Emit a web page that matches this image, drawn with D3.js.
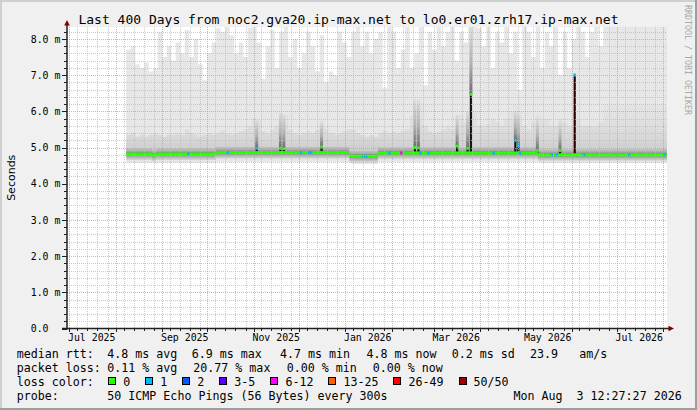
<!DOCTYPE html>
<html><head><meta charset="utf-8">
<script src="https://cdnjs.cloudflare.com/ajax/libs/d3/7.8.5/d3.min.js"></script>
<style>
html,body{margin:0;padding:0;background:#f0f0f0;overflow:hidden}
svg{display:block}
text{font-family:"DejaVu Sans Mono",monospace;white-space:pre;fill:#000}
</style></head><body>
<svg id="chart" width="697" height="410"></svg>
<script>
// ---------------- DATA ----------------
const title = "Last 400 Days from noc2.gva20.ip-max.net to lo0.er01.zrh17.ip-max.net";
const yAxisTitle = "Seconds";
const watermark = "RRDTOOL / TOBI OETIKER";
const rangeStart = "2025-06-29 12:27";
const rangeEnd = "2026-08-03 12:27";
const yMaxValue = 8.33;
const yTickValues = [0, 1, 2, 3, 4, 5, 6, 7, 8];
const yTickLabels = ["0.0", "1.0 m", "2.0 m", "3.0 m", "4.0 m", "5.0 m", "6.0 m", "7.0 m", "8.0 m"];
const xLabelMonths = ["2025-07", "2025-09", "2025-11", "2026-01", "2026-03", "2026-05", "2026-07"];
const xLabelTexts = ["Jul 2025", "Sep 2025", "Nov 2025", "Jan 2026", "Mar 2026", "May 2026", "Jul 2026"];

// smoke samples every 3 days from smokeStart (ms)
const smokeStart = "2025-08-08 00:00";
const smokeStepDays = 3;
const smokeMax = [
  7.7, 7.8, 7.3, 7.2, 7.35, 7.1, 7.2, 8.2, 7.5, 7.8,
  7.4, 7.9, 7.6, 8.25, 7.5, 8.0, 7.3, 6.86, 7.6, 7.9,
  8.3, 8.2, 9, 8.1, 7.6, 7.9, 7.5, 8.3, 9, 7.9,
  6.9, 7.8, 8.25, 7.2, 8.2, 9, 7.5, 8.0, 7.2, 7.6,
  8.2, 7.8, 7.1, 8.1, 6.8, 7.1, 7.0, 8.2, 7.9, 7.5,
  8.2, 9, 7.8, 8.2, 7.6, 8.0, 8.2, 6.64, 9, 8.2,
  7.2, 7.7, 9, 7.2, 7.6, 9, 6.72, 8.2, 7.7, 9,
  7.8, 8.2, 9, 7.4, 8.2, 7.9, 9, 9, 8.3, 7.8,
  9, 7.2, 8.2, 7.9, 9, 7.6, 8.2, 6.59, 9, 8.2,
  7.5, 9, 7.2, 8.2, 7.8, 9, 7.0, 8.2, 7.2, 8.0,
  9, 8.2, 7.5, 8.2, 9, 7.8, 9, 9, 9, 9,
  9, 9, 9, 9, 9, 9, 9, 9, 9, 9, 9
];
const smokeHaze = [
  5.35, 5.4, 5.3, 5.35, 5.3, 5.35, 5.4, 5.35, 5.3, 5.35,
  5.35, 5.4, 5.35, 5.5, 5.4, 5.35, 5.3, 5.35, 5.4, 5.35,
  5.4, 5.45, 5.4, 5.35, 5.4, 5.45, 5.5, 5.6, 5.8, 5.75,
  5.45, 5.4, 5.5, 5.6, 5.95, 5.9, 5.5, 5.4, 5.35, 5.4,
  5.45, 5.4, 5.5, 5.75, 5.5, 5.4, 5.35, 5.4, 5.45, 5.5,
  5.5, 5.4, 5.35, 5.3, 5.35, 5.3, 5.4, 5.45, 5.4, 5.45,
  5.4, 5.45, 5.5, 5.9, 6.4, 6.3, 5.6, 5.45, 5.4, 5.45,
  5.5, 5.6, 5.5, 5.6, 5.9, 5.7, 6.5, 6.0, 5.6, 5.6,
  5.65, 5.8, 5.7, 5.6, 5.8, 6.0, 6.2, 6.0, 5.6, 5.5,
  5.7, 5.9, 5.8, 5.8, 5.6, 5.6, 5.8, 5.7, 5.6, 5.6,
  5.8, 5.6, 5.6, 5.6, 5.6, 5.7, 6.2, 6.2, 6.2, 6.2,
  6.2, 6.2, 6.2, 6.2, 6.2, 6.2, 6.2, 6.2, 6.2, 6.2, 6.2
];
// [from, to, median ms, smoke floor ms]
const medianSegments = [
  ["2025-08-08 00:00", "2025-08-25 05:00", 4.82, 4.58],
  ["2025-08-25 05:00", "2025-08-28 02:00", 4.79, 4.56],
  ["2025-08-28 02:00", "2025-10-06 14:00", 4.82, 4.58],
  ["2025-10-06 14:00", "2026-01-03 19:00", 4.86, 4.6],
  ["2026-01-03 19:00", "2026-01-22 19:00", 4.76, 4.54],
  ["2026-01-22 19:00", "2026-05-09 10:00", 4.85, 4.6],
  ["2026-05-09 10:00", "2026-08-03 12:27", 4.80, 4.57]
];
// [date, peak median ms, loss class at peak, smoke halo top ms, shaft loss class (-1 = grey smoke)]
const spikes = [
  ["2025-11-03 00:00", 4.98, 1, 5.75, -1],
  ["2025-11-18 19:00", 4.98, 0, 5.95, -1],
  ["2025-11-21 02:00", 4.97, 0, 5.9, -1],
  ["2025-12-16 05:00", 5.02, 0, 5.7, -1],
  ["2026-02-16 10:00", 5.00, 0, 6.3, -1],
  ["2026-02-18 19:00", 4.99, 0, 6.3, -1],
  ["2026-03-16 14:00", 5.04, 0, 5.9, -1],
  ["2026-03-23 14:00", 4.98, 0, 6.0, -1],
  ["2026-03-25 19:00", 6.47, 0, 8.33, -1],
  ["2026-04-24 10:00", 5.20, 1, 6.0, -1],
  ["2026-04-26 10:00", 5.05, 1, 5.9, -1],
  ["2026-05-09 02:00", 4.92, 0, 5.8, -1],
  ["2026-05-24 05:00", 4.92, 0, 5.7, -1],
  ["2026-06-03 00:00", 7.00, 1, 7.0, 7]
];
// [date, loss class]
const lossMarks = [
  ["2025-09-18 12:00", 1], ["2025-10-14 14:00", 1], ["2025-12-02 12:00", 1],
  ["2025-12-07 19:00", 1], ["2025-12-09 05:00", 1], ["2026-01-13 00:00", 1],
  ["2026-01-15 00:00", 1], ["2026-01-30 10:00", 1], ["2026-02-07 10:00", 4],
  ["2026-02-20 02:00", 1], ["2026-02-25 12:00", 1], ["2026-04-09 22:00", 1],
  ["2026-04-27 10:00", 1], ["2026-05-18 19:00", 1], ["2026-05-22 02:00", 1],
  ["2026-06-09 05:00", 1], ["2026-07-09 07:00", 1], ["2026-08-01 19:00", 1]
];
const lossLabels = ["0", "1", "2", "3-5", "6-12", "13-25", "26-49", "50/50"];
const lossColors = ["#26ff00", "#00b8ff", "#0059ff", "#5e00ff", "#ff00ff", "#ff5e00", "#ff0000", "#a00000"];
const rttLegendLabel = "median rtt:";
const rttLegend = ["4.8 ms avg", "6.9 ms max", "4.7 ms min", "4.8 ms now", "0.2 ms sd", "23.9", "am/s"];
const lossLegendLabel = "packet loss:";
const lossLegend = ["0.11 % avg", "20.77 % max", "0.00 % min", "0.00 % now"];
const lossColorLabel = "loss color:";
const probeLabel = "probe:";
const probeText = "50 ICMP Echo Pings (56 Bytes) every 300s";
const stampText = "Mon Aug  3 12:27:27 2026";

// ---------------- LAYOUT ----------------
const W = 697, H = 410;
const P = {left: 67, right: 667, top: 27, bottom: 328.5};
const parseT = d3.timeParse("%Y-%m-%d %H:%M");
const parseM = d3.timeParse("%Y-%m");
const t0 = parseT(rangeStart), t1 = parseT(rangeEnd);
const x = d3.scaleTime().domain([t0, t1]).range([P.left, P.right]);
const y = d3.scaleLinear().domain([0, yMaxValue]).range([P.bottom, P.top]);

const svg = d3.select("#chart");
const defs = svg.append("defs");
defs.append("clipPath").attr("id", "plotClip").append("rect")
  .attr("x", P.left).attr("y", P.top).attr("width", P.right - P.left).attr("height", P.bottom - P.top);
const hg = defs.append("linearGradient").attr("id", "hazeG").attr("gradientUnits", "userSpaceOnUse")
  .attr("x1", 0).attr("x2", 0).attr("y1", y(4.9)).attr("y2", y(6.4));
[[0, "#cbcbcb"], [0.2, "#d6d6d6"], [0.5, "#dfdfdf"], [1, "#e6e6e6"]].forEach(([o, c]) =>
  hg.append("stop").attr("offset", o).attr("stop-color", c));
const halo = defs.append("linearGradient").attr("id", "haloG").attr("x1", 0).attr("y1", 1).attr("x2", 0).attr("y2", 0);
[[0, "#6a6a6a"], [0.45, "#b0b0b0"], [1, "#dcdcdc"]].forEach(([o, c]) =>
  halo.append("stop").attr("offset", o).attr("stop-color", c));
// soft vertical gradient for the dense smoke right around the median
const bg = defs.append("linearGradient").attr("id", "bandG").attr("x1", 0).attr("y1", 0).attr("x2", 0).attr("y2", 1);
[[0, "#d8d8d8"], [0.35, "#a8a8a8"], [0.5, "#707070"], [0.68, "#a0a0a0"], [1, "#dcdcdc"]].forEach(([o, c]) =>
  bg.append("stop").attr("offset", o).attr("stop-color", c));

// background & frame
svg.append("rect").attr("width", W).attr("height", H).attr("fill", "#f0f0f0");
svg.append("rect").attr("x", 0).attr("y", 0).attr("width", W).attr("height", 2).attr("fill", "#cfcfcf");
svg.append("rect").attr("x", 0).attr("y", 0).attr("width", 2).attr("height", H).attr("fill", "#cfcfcf");
svg.append("rect").attr("x", 0).attr("y", H - 2).attr("width", W).attr("height", 2).attr("fill", "#9e9e9e");
svg.append("rect").attr("x", W - 2).attr("y", 0).attr("width", 2).attr("height", H).attr("fill", "#9e9e9e");
svg.append("rect").attr("x", P.left).attr("y", P.top).attr("width", P.right - P.left)
  .attr("height", P.bottom - P.top).attr("fill", "#ffffff");

// data prep
const segs = medianSegments.map(([a, b, m, f]) => ({a: parseT(a), b: parseT(b), m, f}));
const segAt = t => segs.find(s => t >= s.a && t < s.b) || segs[segs.length - 1];
const s0 = parseT(smokeStart);
const pts = smokeMax.map((v, i) => ({t: d3.timeDay.offset(s0, i * smokeStepDays), max: v, haze: smokeHaze[i]}));
pts.push({t: t1, max: smokeMax[smokeMax.length - 1], haze: smokeHaze[smokeHaze.length - 1]});

const g = svg.append("g").attr("clip-path", "url(#plotClip)");
// light smoke (min..max)
g.append("path").datum(pts).attr("fill", "#e7e7e7")
  .attr("d", d3.area().curve(d3.curveStepAfter).x(d => x(d.t))
    .y0(d => y(segAt(d.t).f)).y1(d => y(Math.min(d.max, yMaxValue))));
// haze above median
g.append("path").datum(pts).attr("fill", "url(#hazeG)")
  .attr("d", d3.area().curve(d3.curveStepAfter).x(d => x(d.t))
    .y0(d => y(segAt(d.t).m)).y1(d => y(d.haze)));
// dense smoke around median
g.selectAll("rect.band").data(segs).join("rect").attr("class", "band")
  .attr("x", d => x(d.a)).attr("width", d => x(d.b) - x(d.a))
  .attr("y", d => y(d.m + 0.2)).attr("height", d => y(d.m - 0.17) - y(d.m + 0.2))
  .attr("fill", "url(#bandG)");

const sp = spikes.map(([d, peak, cls, haloTop, shaft]) => ({t: parseT(d), peak, cls, haloTop, shaft}));
// spike halos
g.selectAll("rect.halo").data(sp.filter(d => d.haloTop > d.peak)).join("rect").attr("class", "halo")
  .attr("x", d => x(d.t) - 1.5).attr("width", 3)
  .attr("y", d => y(d.haloTop)).attr("height", d => y(d.peak) - y(d.haloTop))
  .attr("fill", "url(#haloG)");
// spike shafts
g.selectAll("rect.shaft").data(sp).join("rect").attr("class", "shaft")
  .attr("x", d => x(d.t) - 1.1).attr("width", 2.2)
  .attr("y", d => y(d.peak)).attr("height", d => y(segAt(d.t).m) - y(d.peak))
  .attr("fill", d => d.shaft < 0 ? "#161616" : d3.interpolateRgb("#000000", lossColors[d.shaft])(0.32));

// median line (loss class 0)
g.selectAll("rect.med").data(segs).join("rect").attr("class", "med")
  .attr("x", d => x(d.a)).attr("width", d => x(d.b) - x(d.a))
  .attr("y", d => y(d.m) - 1.5).attr("height", 3).attr("fill", lossColors[0]);
// spike tops
g.selectAll("rect.top").data(sp).join("rect").attr("class", "top")
  .attr("x", d => x(d.t) - 1.25).attr("width", 2.5)
  .attr("y", d => y(d.peak) - 1.5).attr("height", 3).attr("fill", d => lossColors[d.cls]);
// loss marks on median
const lm = lossMarks.map(([d, c]) => ({t: parseT(d), c}));
g.selectAll("rect.loss").data(lm).join("rect").attr("class", "loss")
  .attr("x", d => x(d.t) - 1.25).attr("width", 2.5)
  .attr("y", d => y(segAt(d.t).m) - 1.5).attr("height", 3).attr("fill", d => lossColors[d.c]);

// ---------------- GRID ----------------
const grid = svg.append("g").attr("shape-rendering", "crispEdges");
const minorC = "#bababa", majorC = "#f08080";
const months = d3.timeMonth.range(d3.timeMonth.ceil(t0), t1);
const minorTimes = [];
d3.timeMonth.range(d3.timeMonth.floor(t0), t1).forEach(m => {
  const next = d3.timeMonth.offset(m, 1);
  const L = (next - m) / 864e5, step = 6.7;
  const n = Math.floor((L - 9) / step) + 1;
  const margin = (L - (n - 1) * step) / 2;
  for (let k = 0; k < n; k++) {
    const t = new Date(+m + (margin + k * step) * 864e5);
    if (t > t0 && t < t1) minorTimes.push(t);
  }
});
const minorY = d3.range(1, Math.floor(yMaxValue / 0.2) + 1).map(k => k * 0.2).filter(v => Math.abs(v - Math.round(v)) > 0.01);
grid.selectAll("line.hmin").data(minorY).join("line")
  .attr("x1", P.left).attr("x2", P.right)
  .attr("y1", d => Math.round(y(d)) + 0.5).attr("y2", d => Math.round(y(d)) + 0.5)
  .attr("stroke", minorC).attr("stroke-opacity", 0.75).attr("stroke-dasharray", "1,1");
grid.selectAll("line.vmin").data(minorTimes).join("line")
  .attr("x1", d => Math.round(x(d)) + 0.5).attr("x2", d => Math.round(x(d)) + 0.5)
  .attr("y1", P.top).attr("y2", P.bottom)
  .attr("stroke", minorC).attr("stroke-opacity", 0.75).attr("stroke-dasharray", "1,1");
grid.selectAll("line.hmaj").data(yTickValues.filter(v => v > 0)).join("line")
  .attr("x1", P.left).attr("x2", P.right)
  .attr("y1", d => Math.round(y(d)) + 0.5).attr("y2", d => Math.round(y(d)) + 0.5)
  .attr("stroke", majorC).attr("stroke-opacity", 0.7).attr("stroke-dasharray", "1,1");
grid.selectAll("line.vmaj").data(months).join("line")
  .attr("x1", d => Math.round(x(d)) + 0.5).attr("x2", d => Math.round(x(d)) + 0.5)
  .attr("y1", P.top).attr("y2", P.bottom)
  .attr("stroke", majorC).attr("stroke-opacity", 0.7).attr("stroke-dasharray", "1,1");

// ---------------- AXES ----------------
const ax = svg.append("g");
const axisC = "#202020", arrowC = "#800000";
ax.selectAll("line.ytmin").data(minorY).join("line")
  .attr("x1", P.left - 3).attr("x2", P.left).attr("y1", d => Math.round(y(d)) + 0.5).attr("y2", d => Math.round(y(d)) + 0.5)
  .attr("stroke", axisC).attr("shape-rendering", "crispEdges");
ax.selectAll("line.ytmaj").data(yTickValues).join("line")
  .attr("x1", P.left - 5).attr("x2", P.left).attr("y1", d => Math.round(y(d)) + 0.5).attr("y2", d => Math.round(y(d)) + 0.5)
  .attr("stroke", axisC).attr("shape-rendering", "crispEdges");
ax.selectAll("line.xtmin").data(minorTimes).join("line")
  .attr("x1", d => Math.round(x(d)) + 0.5).attr("x2", d => Math.round(x(d)) + 0.5)
  .attr("y1", P.bottom).attr("y2", P.bottom + 2.5).attr("stroke", axisC).attr("shape-rendering", "crispEdges");
ax.selectAll("line.xtmaj").data(months).join("line")
  .attr("x1", d => Math.round(x(d)) + 0.5).attr("x2", d => Math.round(x(d)) + 0.5)
  .attr("y1", P.bottom).attr("y2", P.bottom + 3.5).attr("stroke", axisC).attr("shape-rendering", "crispEdges");
ax.append("line").attr("x1", P.left).attr("x2", P.left).attr("y1", P.bottom + 1).attr("y2", P.top - 4)
  .attr("stroke", axisC).attr("stroke-width", 1.5);
ax.append("line").attr("x1", P.left - 5).attr("x2", P.right + 3).attr("y1", P.bottom).attr("y2", P.bottom)
  .attr("stroke", axisC).attr("stroke-width", 1.5);
ax.append("path").attr("d", `M${P.left - 2.8},${P.top - 1.5}L${P.left + 2.8},${P.top - 1.5}L${P.left},${P.top - 7}Z`).attr("fill", arrowC);
ax.append("path").attr("d", `M${P.right + 1.5},${P.bottom - 2.8}L${P.right + 1.5},${P.bottom + 2.8}L${P.right + 7},${P.bottom}Z`).attr("fill", arrowC);

ax.selectAll("text.yl").data(yTickValues).join("text").attr("class", "yl")
  .attr("x", 30.7).attr("y", d => y(d) + 3.6).style("font-size", "9.9px")
  .text((d, i) => yTickLabels[i]);
ax.selectAll("text.xl").data(xLabelMonths).join("text").attr("class", "xl")
  .attr("x", d => x(d3.timeDay.offset(parseM(d), 15))).attr("y", 340.8)
  .attr("text-anchor", "middle").style("font-size", "9.9px")
  .text((d, i) => xLabelTexts[i]);

svg.append("text").attr("x", 348.5).attr("y", 24).attr("text-anchor", "middle")
  .style("font-size", "13px").text(title);
svg.append("text").attr("transform", `translate(14.5,${(P.top + P.bottom) / 2}) rotate(-90)`)
  .attr("text-anchor", "middle").style("font-family", "'DejaVu Sans',sans-serif").style("font-size", "11px")
  .text(yAxisTitle);
svg.append("text").attr("transform", "translate(684.5,5) rotate(90)")
  .style("font-size", "8.3px").style("fill", "#a8a8a8").text(watermark);

// ---------------- LEGEND ----------------
const lg = svg.append("g").style("font-size", "11.65px");
const rowY = [357.7, 372, 385.7, 400];
const colLabelX = 16.7;
lg.append("text").attr("x", colLabelX).attr("y", rowY[0]).text(rttLegendLabel);
const rttX = [107.3, 191.7, 280, 366.5, 451.7, 530, 579.3];
rttLegend.forEach((s, i) => lg.append("text").attr("x", rttX[i]).attr("y", rowY[0]).text(s));
lg.append("text").attr("x", colLabelX).attr("y", rowY[1]).text(lossLegendLabel);
const lossX = [107.3, 193.3, 286.7, 372.7];
lossLegend.forEach((s, i) => lg.append("text").attr("x", lossX[i]).attr("y", rowY[1]).text(s));
lg.append("text").attr("x", colLabelX).attr("y", rowY[2]).text(lossColorLabel);
let cx = 108.3;
lossLabels.forEach((s, i) => {
  lg.append("rect").attr("x", Math.round(cx) + 0.5).attr("y", 377.5).attr("width", 7).attr("height", 7)
    .attr("fill", lossColors[i]).attr("stroke", "#000").attr("stroke-width", 1).attr("shape-rendering", "crispEdges");
  const t = lg.append("text").attr("x", cx + 15).attr("y", rowY[2]).text(s);
  cx = cx + 15 + t.node().getComputedTextLength() + 15;
});
lg.append("text").attr("x", colLabelX).attr("y", rowY[3]).text(probeLabel);
lg.append("text").attr("x", 107.3).attr("y", rowY[3]).text(probeText);
lg.append("text").attr("x", 681.7).attr("y", rowY[3]).attr("text-anchor", "end").text(stampText);
</script>
</body></html>
